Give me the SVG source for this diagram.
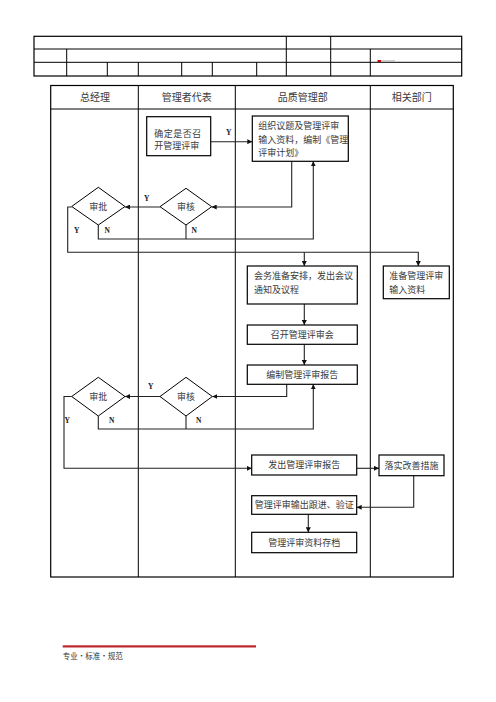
<svg xmlns="http://www.w3.org/2000/svg" width="496" height="702" viewBox="0 0 496 702">
<style>
.frame{fill:none;stroke:#000;stroke-width:1.2}
.grid{stroke:#000;stroke-width:1;fill:none}
.box{fill:#fff;stroke:#000;stroke-width:1.2}
.dia{fill:#fff;stroke:#000;stroke-width:1}
.t{font-family:"Noto Sans CJK SC","Noto Sans",sans-serif;fill:#3a3a3a;font-size:9px}
.h{font-family:"Noto Sans CJK SC","Noto Sans",sans-serif;fill:#3a3a3a;font-size:10px;text-anchor:middle}
.c{text-anchor:middle}
.yn{font-family:"Liberation Serif",serif;font-weight:bold;font-size:7.5px;fill:#222}
.conn path{fill:none;stroke:#222;stroke-width:1.1}
.conn path.a{marker-end:url(#arr)}
</style>
<defs>
<marker id="arr" viewBox="0 0 10 10" refX="10" refY="5" markerWidth="5" markerHeight="5" markerUnits="userSpaceOnUse" orient="auto">
<path d="M0,0 L10,5 L0,10 z" fill="#111"/>
</marker>
</defs>
<rect width="496" height="702" fill="#fff"/>

<g id="header-table">
<rect class="frame" x="34" y="36.3" width="427.7" height="39.7"/>
<path class="grid" d="M34,49 H461.7 M34,62.3 H461.7 M286.3,36.3 V76 M330.7,36.3 V76 M66.7,49 V76 M370.3,49 V76 M107.3,62.3 V76 M138.3,62.3 V76 M181.7,62.3 V76 M212.3,62.3 V76 M256.7,62.3 V76"/>
<rect x="377.5" y="60" width="3.5" height="2" fill="#c00"/>
<rect x="381" y="60.3" width="14" height="1.5" fill="#bbb"/>
</g>

<g id="swimlanes">
<rect class="frame" x="50.7" y="85.5" width="402.6" height="491.5"/>
<path class="grid" d="M50.7,109 H453.3 M138.3,85.5 V577 M235.3,85.5 V577 M370.3,85.5 V577"/>
<text class="h" x="95" y="100.5">总经理</text>
<text class="h" x="186.7" y="100.5">管理者代表</text>
<text class="h" x="302.7" y="100.5">品质管理部</text>
<text class="h" x="411.7" y="100.5">相关部门</text>
</g>

<g class="conn" id="connectors">
<path class="a" d="M210.7,141.7 H252.3"/>
<path class="a" d="M291.7,161.3 V207 H211.7"/>
<path class="a" d="M160,207 H125"/>
<path class="a" d="M98.3,225 V239 H313.3 V161.3"/>
<path d="M186,225 V239"/>
<path class="a" d="M71.7,207 H67.7 V252.3 H418.3 V266"/>
<path class="a" d="M304.3,252.3 V266"/>
<path class="a" d="M304.3,304 V325"/>
<path class="a" d="M304.3,344.3 V365"/>
<path class="a" d="M286.7,384.3 V396.5 H212.3"/>
<path class="a" d="M160,396.5 H125"/>
<path class="a" d="M98.3,416 V429 H313.3 V384.3"/>
<path d="M186,416 V429"/>
<path class="a" d="M71.7,396.5 H64 V468.3 H251.7"/>
<path class="a" d="M356.7,468.3 H379"/>
<path class="a" d="M413.7,475.7 V507.3 H356.7"/>
<path class="a" d="M308.3,514.3 V532.3"/>
<text class="yn" x="226" y="135">Y</text>
<text class="yn" x="144" y="200.5">Y</text>
<text class="yn" x="104.5" y="232.5">N</text>
<text class="yn" x="191.5" y="232.5">N</text>
<text class="yn" x="74" y="232.5">Y</text>
<text class="yn" x="148" y="389">Y</text>
<text class="yn" x="109" y="423">N</text>
<text class="yn" x="196" y="423">N</text>
<text class="yn" x="64.5" y="423">Y</text>
</g>

<g id="n-decide">
<rect class="box" x="146.7" y="116.7" width="64" height="39"/>
<text class="t" x="154.3" y="136.5" font-size="8.5" textLength="47" lengthAdjust="spacing">确定是否召</text>
<text class="t" x="154.3" y="149" font-size="8.5">开管理评审</text>
</g>

<g id="n-plan">
<rect class="box" x="252.3" y="116" width="96" height="45.3"/>
<text class="t" x="258.3" y="128.5" font-size="8.7">组织议题及管理评审</text>
<text class="t" x="258.3" y="143" font-size="8.7">输入资料，编制《管理</text>
<text class="t" x="258.3" y="156" font-size="8.7">评审计划》</text>
</g>

<g id="n-review1">
<polygon class="dia" points="186,188.3 211.7,206.7 186,225 160,206.7"/>
<text class="t c" x="186" y="209.8" font-size="8.5">审核</text>
</g>
<g id="n-approve1">
<polygon class="dia" points="98.3,187.3 125,206.5 98.3,225 71.7,206.5"/>
<text class="t c" x="98.3" y="209.5" font-size="8.5">审批</text>
</g>

<g id="n-prepare">
<rect class="box" x="247.3" y="266" width="110" height="38"/>
<text class="t" x="254" y="279">会务准备安排，发出会议</text>
<text class="t" x="254" y="292.5">通知及议程</text>
</g>

<g id="n-input">
<rect class="box" x="383.3" y="266" width="66" height="32.7"/>
<text class="t" x="389.3" y="279">准备管理评审</text>
<text class="t" x="389.3" y="292.5">输入资料</text>
</g>

<g id="n-meeting">
<rect class="box" x="247.3" y="325" width="110" height="19.3"/>
<text class="t c" x="302.3" y="338">召开管理评审会</text>
</g>

<g id="n-report">
<rect class="box" x="247.3" y="365" width="110" height="19.3"/>
<text class="t c" x="302.3" y="378">编制管理评审报告</text>
</g>

<g id="n-review2">
<polygon class="dia" points="186,377.3 212.3,396.5 186,416 160,396.5"/>
<text class="t c" x="186" y="399.6" font-size="8.5">审核</text>
</g>
<g id="n-approve2">
<polygon class="dia" points="98.3,377.3 125,396.5 98.3,416 71.7,396.5"/>
<text class="t c" x="98.3" y="399.6" font-size="8.5">审批</text>
</g>

<g id="n-issue">
<rect class="box" x="251.7" y="455" width="105" height="20"/>
<text class="t c" x="304.2" y="468.3">发出管理评审报告</text>
</g>

<g id="n-implement">
<rect class="box" x="379" y="455" width="65" height="20.7"/>
<text class="t c" x="411.5" y="468.5">落实改善措施</text>
</g>

<g id="n-follow">
<rect class="box" x="251.7" y="495.7" width="105" height="18.6"/>
<text class="t c" x="304.2" y="508.3">管理评审输出跟进、验证</text>
</g>

<g id="n-archive">
<rect class="box" x="251.7" y="532.3" width="105" height="20.4"/>
<text class="t c" x="304.2" y="545.8">管理评审资料存档</text>
</g>

<g id="footer">
<rect x="62.7" y="645.3" width="193.3" height="2.2" fill="#c0262d"/>
<text x="62.7" y="658.5" font-family="'Noto Sans CJK SC','Noto Sans',sans-serif" font-size="7.5" fill="#333">专业•标准•规范</text>
</g>
</svg>
